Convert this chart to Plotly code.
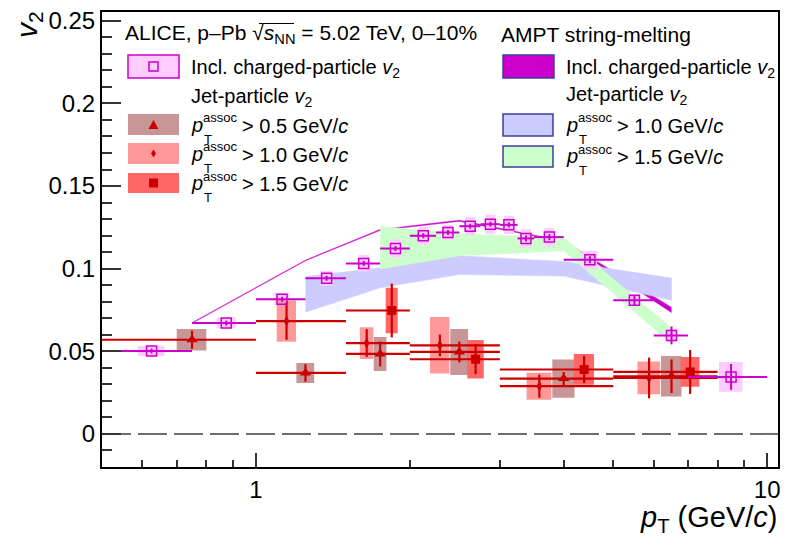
import math
import plotly.graph_objects as go

# ---------------- data ----------------
# ALICE inclusive charged-particle v2
incl_pt = [0.625, 0.875, 1.125, 1.375, 1.625, 1.875, 2.125, 2.375, 2.625, 2.875,
           3.125, 3.375, 3.75, 4.5, 5.5, 6.5, 8.5]
incl_lo = [0.5, 0.75, 1.0, 1.25, 1.5, 1.75, 2.0, 2.25, 2.5, 2.75,
           3.0, 3.25, 3.5, 4.0, 5.0, 6.0, 7.0]
incl_hi = [0.75, 1.0, 1.25, 1.5, 1.75, 2.0, 2.25, 2.5, 2.75, 3.0,
           3.25, 3.5, 4.0, 5.0, 6.0, 7.0, 10.0]
incl_v2 = [0.0502, 0.0671, 0.0815, 0.0942, 0.1032, 0.1122, 0.1199, 0.1219, 0.1257, 0.1269,
           0.1265, 0.1183, 0.1191, 0.1054, 0.0809, 0.0596, 0.0345]
incl_stat = [0.0015, 0.0015, 0.0015, 0.0015, 0.0015, 0.0015, 0.0015, 0.0015, 0.0015, 0.0015,
             0.0016, 0.0018, 0.0018, 0.0022, 0.0030, 0.0054, 0.0078]
incl_sys = [0.0030, 0.0033, 0.0040, 0.0045, 0.0050, 0.0055, 0.0053, 0.0045, 0.0055, 0.0057,
            0.0055, 0.0055, 0.0055, 0.0055, 0.0035, 0.0037, 0.0090]

# ALICE jet-particle v2, pT_assoc > 0.5 GeV/c
jet05_pt = [0.75, 1.25, 1.75, 2.5, 4.0, 6.5]
jet05_lo = [0.5, 1.0, 1.5, 2.0, 3.0, 5.0]
jet05_hi = [1.0, 1.5, 2.0, 3.0, 5.0, 8.0]
jet05_v2 = [0.0570, 0.0369, 0.0484, 0.0496, 0.0335, 0.0349]
jet05_stat = [0.0055, 0.0053, 0.0075, 0.0063, 0.0040, 0.0102]
jet05_sys = [0.0065, 0.0060, 0.0103, 0.0139, 0.0116, 0.0122]

# pT_assoc > 1.0 GeV/c
jet10_pt = [1.148, 1.647, 2.29, 3.584, 5.875]
jet10_lo = [1.0, 1.5, 2.0, 3.0, 5.0]
jet10_hi = [1.5, 2.0, 3.0, 5.0, 8.0]
jet10_v2 = [0.0683, 0.0550, 0.0536, 0.0289, 0.0339]
jet10_stat = [0.0113, 0.0084, 0.0066, 0.0070, 0.0123]
jet10_sys = [0.0125, 0.0096, 0.0171, 0.0082, 0.0099]

# pT_assoc > 1.5 GeV/c
jet15_pt = [1.844, 2.69, 4.385, 7.07]
jet15_lo = [1.5, 2.0, 3.0, 5.0]
jet15_hi = [2.0, 3.0, 5.0, 8.0]
jet15_v2 = [0.0747, 0.0452, 0.0390, 0.0375]
jet15_stat = [0.0163, 0.0090, 0.0083, 0.0133]
jet15_sys = [0.0137, 0.0116, 0.0093, 0.0090]

# AMPT string-melting bands
ampt_incl_pt = [0.75, 1.25, 1.75, 2.5, 4.0, 6.5]
ampt_incl_low = [0.0669, 0.1047, 0.1231, 0.1286, 0.1161, 0.0733]
ampt_incl_high = [0.0675, 0.1053, 0.1239, 0.1294, 0.1169, 0.0767]

ampt_jet10_pt = [1.25, 1.75, 2.5, 4.0, 6.5]
ampt_jet10_low = [0.0737, 0.0884, 0.0964, 0.0955, 0.0809]
ampt_jet10_high = [0.0952, 0.1005, 0.1078, 0.1043, 0.0943]

ampt_jet15_pt = [1.75, 2.5, 4.0, 6.5]
ampt_jet15_low = [0.0998, 0.1078, 0.1108, 0.0545]
ampt_jet15_high = [0.1257, 0.1212, 0.1189, 0.0642]

# ---------------- styles ----------------
FONT = "Liberation Sans, Arial, Helvetica, sans-serif"
MAG = "#CC00CC"
PINK = "#FFCCFF"
RED = "#CC0000"
BOX05 = "#C89696"
BOX10 = "#FF9999"
BOX15 = "#FF6666"
LAV = "#CCCCFF"
GRN = "#CCFFCC"
BORDER = "#3C3CA0"

fig = go.Figure()


def band(xs, lo, hi, color, lw=0.5, lcolor=None):
    fig.add_trace(go.Scatter(
        x=list(xs) + list(xs)[::-1], y=list(hi) + list(lo)[::-1],
        mode="lines", fill="toself", fillcolor=color,
        line=dict(width=lw, color=lcolor or color), hoverinfo="skip", showlegend=False))


band(ampt_incl_pt, ampt_incl_low, ampt_incl_high, MAG, 0.3, "#D84FD8")
band(ampt_jet10_pt, ampt_jet10_low, ampt_jet10_high, LAV)
band(ampt_jet15_pt, ampt_jet15_low, ampt_jet15_high, GRN)


def boxes(xc, lo, hi, v, sys, color, frac, minrel=0.0):
    bx, by = [], []
    for x, a, b, y, s in zip(xc, lo, hi, v, sys):
        d = max(frac * (b - a) / 2.0, minrel * x)
        bx += [x - d, x + d, x + d, x - d, x - d, None]
        by += [y - s, y - s, y + s, y + s, y - s, None]
    fig.add_trace(go.Scatter(x=bx, y=by, mode="lines", fill="toself", fillcolor=color,
                             line=dict(width=0, color=color), hoverinfo="skip",
                             showlegend=False))


boxes(incl_pt, incl_lo, incl_hi, incl_v2, incl_sys, PINK, 0.3, 0.0228)
boxes(jet05_pt, jet05_lo, jet05_hi, jet05_v2, jet05_sys, BOX05, 0.2)
boxes(jet10_pt, jet10_lo, jet10_hi, jet10_v2, jet10_sys, BOX10, 0.2)
boxes(jet15_pt, jet15_lo, jet15_hi, jet15_v2, jet15_sys, BOX15, 0.2)


def points(xc, lo, hi, v, stat, color, symbol, size, lw, mlw=0):
    fig.add_trace(go.Scatter(
        x=xc, y=v, mode="markers",
        marker=dict(symbol=symbol, size=size, color=color,
                    line=dict(width=mlw, color=color)),
        error_x=dict(type="data", symmetric=False,
                     array=[b - x for x, b in zip(xc, hi)],
                     arrayminus=[x - a for x, a in zip(xc, lo)],
                     color=color, thickness=lw, width=0),
        error_y=dict(type="data", array=stat, color=color, thickness=lw, width=0),
        hoverinfo="skip", showlegend=False))


points(jet05_pt, jet05_lo, jet05_hi, jet05_v2, jet05_stat, RED, "triangle-up", 10, 2.2)
points(jet10_pt, jet10_lo, jet10_hi, jet10_v2, jet10_stat, RED, "diamond-tall", 8, 2.2)
points(jet15_pt, jet15_lo, jet15_hi, jet15_v2, jet15_stat, RED, "square", 9, 2.2)
points(incl_pt, incl_lo, incl_hi, incl_v2, incl_stat, MAG, "square-open", 10, 2, 1.5)

# ---------------- layout helpers (pixel -> paper) ----------------
L, R, T, B = 102, 778, 12, 467


def px(x):
    return (x - L) / (R - L)


def py(y):
    return (B - y) / (B - T)


shapes = [dict(type="line", xref="paper", yref="y", x0=0, x1=1, y0=0, y1=0,
               line=dict(color="#6E6E6E", width=2, dash="29px,7px"), layer="below")]
ann = []


def rect(x0, y0, x1, y1, fill, line=None, lw=0):
    shapes.append(dict(type="rect", xref="paper", yref="paper",
                       x0=px(x0), x1=px(x1), y0=py(y1), y1=py(y0),
                       fillcolor=fill, line=dict(width=lw, color=line or fill)))


def path(pts, fill):
    d = "M " + " L ".join(f"{px(a):.5f},{py(b):.5f}" for a, b in pts) + " Z"
    shapes.append(dict(type="path", xref="paper", yref="paper", path=d,
                       fillcolor=fill, line=dict(width=0, color=fill)))


def text(x, y, s, size=20, anchor="left"):
    ann.append(dict(xref="paper", yref="paper", x=px(x), y=py(y), text=s,
                    showarrow=False, xanchor=anchor, yanchor="middle",
                    font=dict(family=FONT, size=size, color="black")))


def ptassoc(x, y, rest):
    text(x, y, "<i>p</i>")
    text(x + 12, y - 7, "assoc", 13)
    text(x + 13, y + 14, "T", 13)
    text(x + 51, y + 1, rest)


# left legend
text(123, 34, "ALICE, p–Pb √<i>s</i><sub>NN</sub> = 5.02 TeV, 0–10%", 21)
shapes.append(dict(type="line", xref="paper", yref="paper",
                   x0=px(259), x1=px(294), y0=py(23.5), y1=py(23.5),
                   line=dict(color="black", width=1.2)))
rect(128, 55, 179, 78, PINK, MAG, 1.5)
shapes.append(dict(type="rect", xref="paper", yref="paper",
                   x0=px(149), x1=px(158), y0=py(71), y1=py(62),
                   line=dict(color=MAG, width=1.5)))
text(189, 68, "Incl. charged-particle <i>v</i><sub>2</sub>")
text(189, 97, "Jet-particle <i>v</i><sub>2</sub>")
rect(128, 114, 179, 135, BOX05)
path([(148.5, 129), (158.5, 129), (153.5, 120)], RED)
ptassoc(189, 125, "> 0.5 GeV/<i>c</i>")
rect(128, 143, 179, 164, BOX10)
path([(153.5, 149.5), (156, 153.5), (153.5, 157.5), (151, 153.5)], RED)
ptassoc(189, 154, "> 1.0 GeV/<i>c</i>")
rect(128, 173, 179, 193, BOX15)
rect(149, 178.5, 158, 187.5, RED)
ptassoc(189, 183, "> 1.5 GeV/<i>c</i>")

# right legend
text(499, 34, "AMPT string-melting", 21)
rect(503, 55, 554, 78, MAG, BORDER, 1.5)
text(564, 68, "Incl. charged-particle <i>v</i><sub>2</sub>")
text(564, 95, "Jet-particle <i>v</i><sub>2</sub>")
rect(503, 114, 553, 136, LAV, BORDER, 1.5)
ptassoc(564, 125, "> 1.0 GeV/<i>c</i>")
rect(503, 146, 553, 167, GRN, BORDER, 1.5)
ptassoc(564, 156, "> 1.5 GeV/<i>c</i>")

# axis titles
ann.append(dict(xref="paper", yref="paper", x=px(28), y=py(25),
                text="<i>v</i><sub>2</sub>", textangle=-90, showarrow=False,
                xanchor="center", yanchor="middle",
                font=dict(family=FONT, size=30, color="black")))
ann.append(dict(xref="paper", yref="paper", x=px(780), y=py(519),
                text="<i>p</i><sub>T</sub> (GeV/<i>c</i>)", showarrow=False,
                xanchor="right", yanchor="middle",
                font=dict(family=FONT, size=29, color="black")))

fig.update_layout(
    width=789, height=540,
    margin=dict(l=L, r=789 - R, t=T, b=540 - B, pad=0, autoexpand=False),
    paper_bgcolor="white", plot_bgcolor="white",
    shapes=shapes, annotations=ann, showlegend=False,
    font=dict(family=FONT, size=24, color="black"),
)
fig.update_xaxes(
    type="log", range=[math.log10(0.5), math.log10(10.5)], automargin=False,
    tickmode="array", tickvals=[1, 10], ticktext=["1", "10"],
    ticks="inside", ticklen=14, tickwidth=1.5, tickcolor="#333333",
    showline=True, linewidth=2, linecolor="black", mirror=True,
    showgrid=False, zeroline=False, tickfont=dict(size=24),
    minor=dict(tickmode="array", tickvals=[0.6, 0.7, 0.8, 0.9, 2, 3, 4, 5, 6, 7, 8, 9],
               ticks="inside", ticklen=7, tickwidth=1.5, tickcolor="#333333",
               showgrid=False),
)
fig.update_yaxes(
    range=[-0.02, 0.2553], tick0=0, dtick=0.05, automargin=False,
    ticks="inside", ticklen=19, tickwidth=1.5, tickcolor="#333333",
    showline=True, linewidth=2, linecolor="black", mirror=True,
    showgrid=False, zeroline=False, tickfont=dict(size=24),
    minor=dict(dtick=0.01, ticks="inside", ticklen=10, tickwidth=1.5,
               tickcolor="#333333", showgrid=False),
)

fig.write_html("out.html", config={"displayModeBar": False},
               post_script="document.body.style.margin='0px';"
                           "document.body.style.overflow='hidden';")
